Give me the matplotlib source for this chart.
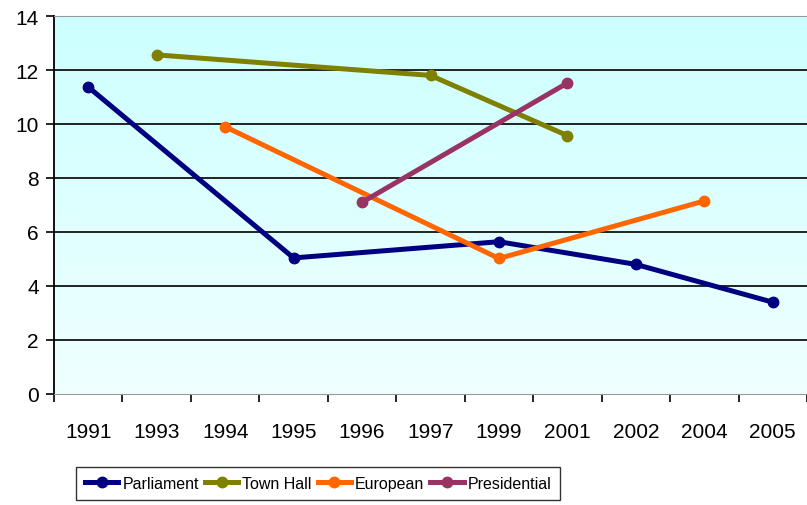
import numpy as np
import matplotlib.pyplot as plt
from matplotlib.colors import LinearSegmentedColormap

years = ["1991", "1993", "1994", "1995", "1996", "1997",
         "1999", "2001", "2002", "2004", "2005"]

# series: (years present, values)
parl_years = ["1991", "1995", "1999", "2002", "2005"]
parl_vals = [11.37, 5.04, 5.64, 4.8, 3.4]
town_years = ["1993", "1997", "2001"]
town_vals = [12.56, 11.8, 9.57]
euro_years = ["1994", "1999", "2004"]
euro_vals = [9.9, 5.02, 7.15]
pres_years = ["1996", "2001"]
pres_vals = [7.1, 11.52]

series = [
    ("Parliament", parl_years, parl_vals, "#000080"),
    ("Town Hall", town_years, town_vals, "#808000"),
    ("European", euro_years, euro_vals, "#FF6600"),
    ("Presidential", pres_years, pres_vals, "#993366"),
]

plt.rcParams["font.family"] = ["Liberation Sans", "DejaVu Sans"]

fig = plt.figure(figsize=(8.07, 5.06), dpi=100)
ax = fig.add_axes([54 / 807, 111 / 506, 753 / 807, 378 / 506])

n = len(years)
ax.set_xlim(-0.5, n - 0.5)
ax.set_ylim(0, 14)

# fondo degradado (cian arriba, más claro abajo)
cmap = LinearSegmentedColormap.from_list("bg", ["#F0FFFF", "#CCFFFF"])
grad = np.linspace(0, 1, 256).reshape(-1, 1)
ax.imshow(grad, cmap=cmap, aspect="auto", origin="lower",
          extent=(-0.5, n - 0.5, 0, 14), zorder=0)

for y in range(2, 15, 2):
    ax.axhline(y, color="#222222", lw=1.4, zorder=1)

for name, yrs, vals, col in series:
    xs = [years.index(y) for y in yrs]
    ax.plot(xs, vals, color=col, lw=3.6, marker="o", ms=7.5,
            label=name, zorder=3)

ax.set_yticks(range(0, 15, 2))
ax.set_xticks(np.arange(-0.5, n, 1.0))
ax.set_xticklabels([])
ax.set_xticks(range(n), minor=True)
ax.set_xticklabels(years, minor=True)
ax.tick_params(axis="x", which="minor", length=0, pad=20, labelsize=15)
ax.tick_params(axis="x", which="major", length=6, width=1.2, direction="out")
ax.tick_params(axis="y", length=6, width=1.2, direction="out", labelsize=15, pad=5)

ax.spines["left"].set_color("black")
ax.spines["left"].set_linewidth(1.3)
ax.spines["bottom"].set_color("#999999")
ax.spines["top"].set_color("#999999")
ax.spines["right"].set_visible(False)

leg = ax.legend(loc="upper left", bbox_to_anchor=(76 / 807, 38 / 506),
                bbox_transform=fig.transFigure, ncol=4, frameon=True,
                fancybox=False, edgecolor="black", handlelength=2.1,
                handletextpad=0.25, columnspacing=0.37, borderpad=0.55,
                borderaxespad=0, prop={"size": 11.5})
leg.get_frame().set_linewidth(1.0)

fig.savefig("out.png", dpi=100)
